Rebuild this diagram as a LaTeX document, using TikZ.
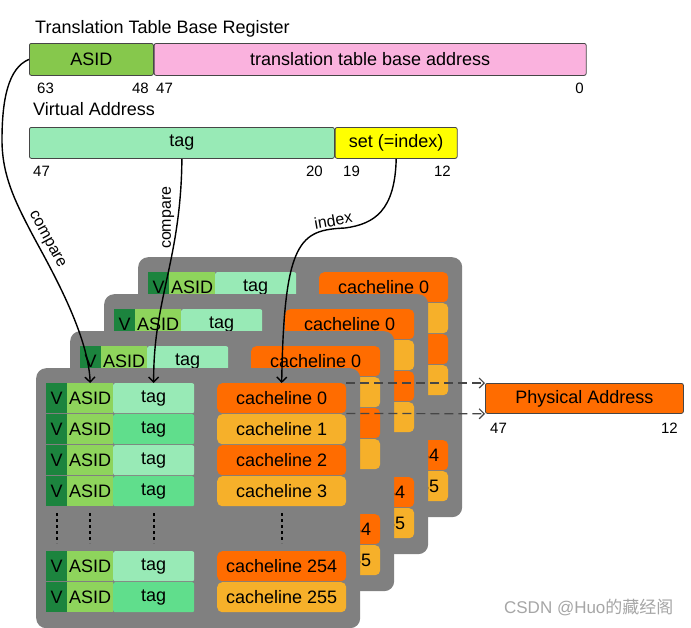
\documentclass[tikz,border=0pt]{standalone}
\usepackage{fontspec}
\setmainfont{Liberation Sans}
\newfontfamily\cjkfont{Noto Sans CJK SC}
\usetikzlibrary{positioning,arrows.meta}

\definecolor{asidgreen}{RGB}{134,200,76}
\definecolor{ttbrpink}{RGB}{250,178,222}
\definecolor{taglight}{RGB}{152,234,182}
\definecolor{tagmid}{RGB}{96,222,140}
\definecolor{setyellow}{RGB}{255,255,0}
\definecolor{cardgray}{RGB}{128,128,128}
\definecolor{vgreen}{RGB}{28,132,62}
\definecolor{cellasid}{RGB}{142,212,92}
\definecolor{clorange}{RGB}{255,108,0}
\definecolor{clamber}{RGB}{246,176,42}
\definecolor{edgegray}{RGB}{70,70,70}

\begin{document}
\begin{tikzpicture}[x=1pt,y=1pt,>={Straight Barb[length=5pt,width=10pt]},
  txt/.style={font=\fontsize{18}{21}\selectfont},
  num/.style={font=\fontsize{15}{18}\selectfont,inner sep=0pt},
  bar/.style={draw=edgegray,line width=0.8pt,rounded corners=2pt,anchor=north west,inner sep=0pt,txt},
  card/.style={fill=cardgray,rounded corners=10pt,anchor=north west,minimum width=324pt,minimum height=260pt,inner sep=0pt},
  cell/.style={anchor=north west,inner sep=0pt,minimum height=30pt,txt},
  arr/.style={->,line width=1.4pt},
  dotcol/.style={dash pattern=on 3pt off 3pt,line width=2pt}]
  \useasboundingbox (0,0) rectangle (691,-627);
  \fill[white] (0,0) rectangle (691,-627);

  \node[txt,anchor=base west,inner sep=0pt] (ttbrtitle) at (35,-33) {Translation Table Base Register};
  \node[bar,fill=asidgreen,minimum width=124pt,minimum height=32pt] (ttbrasid) at (29,-43) {ASID};
  \node[bar,fill=ttbrpink,minimum width=432pt,minimum height=32pt,right=0pt of ttbrasid] (ttbraddr) {translation table base address};
  \node[num,anchor=base west] (b63) at (37,-93) {63};
  \node[num,anchor=base east] (b48) at (149,-93) {48};
  \node[num,anchor=base west] (b47) at (156,-93) {47};
  \node[num,anchor=base east] (b0) at (584,-93) {0};

  \node[txt,anchor=base west,inner sep=0pt] (vatitle) at (33,-115) {Virtual Address};
  \node[bar,fill=taglight,minimum width=305pt,minimum height=31pt] (vatag) at (29,-127) {tag};
  \node[bar,fill=setyellow,minimum width=122pt,minimum height=31pt,right=0pt of vatag] (vaset) {set (=index)};
  \node[num,anchor=base west] (v47) at (33,-176) {47};
  \node[num,anchor=base east] (v20) at (323,-176) {20};
  \node[num,anchor=base west] (v19) at (343,-176) {19};
  \node[num,anchor=base east] (v12) at (451,-176) {12};

  \foreach \k in {3,2,1,0}{
    \begin{scope}[shift={(36+34*\k,-368+37*\k)}]
      \node[card] (card\k) at (0,0) {};
      \foreach \r/\ry/\tagc/\clc in {0/15/taglight/clorange,1/46/tagmid/clamber,2/77/taglight/clorange,3/108/tagmid/clamber,254/183/taglight/clorange,255/214/tagmid/clamber}{
        \ifnum\k=0 \def\showrow{1}\else\ifnum\r=0 \def\showrow{1}\else\def\showrow{0}\fi\fi
        \ifnum\r>253 \def\showcl{1}\else\let\showcl\showrow\fi
        \node[cell,fill=vgreen,minimum width=21pt] (v\k-\r) at (10,-\ry) {\ifnum\showrow=1 V\fi};
        \node[cell,fill=cellasid,minimum width=46pt] (asid\k-\r) at (31,-\ry) {\ifnum\showrow=1 ASID\fi};
        \node[cell,fill=\tagc,minimum width=81pt,rounded corners=2pt] (tag\k-\r) at (77,-\ry) {\ifnum\showrow=1 tag\fi};
        \node[cell,fill=\clc,minimum width=129pt,rounded corners=5pt] (cl\k-\r) at (181,-\ry) {\ifnum\showcl=1 cacheline \r\fi};
      }
      \foreach \dx in {20.5,54,117.5,245.5}
        \draw[dotcol] (\dx,-145) -- (\dx,-175);
    \end{scope}
  }

  \node[bar,fill=clorange,minimum width=198pt,minimum height=30pt] (pa) at (485,-383) {Physical Address};
  \node[num,anchor=base west] (p47) at (490,-433) {47};
  \node[num,anchor=base east] (p12) at (678,-433) {12};

  \draw[->,dash pattern=on 9pt off 5pt,line width=1.2pt,draw=edgegray] (cl0-0.north east) -- (pa.north west);
  \draw[->,dash pattern=on 9pt off 5pt,line width=1.2pt,draw=edgegray] (cl0-0.south east) -- (pa.south west);

  \draw[arr] (ttbrasid.west) .. controls (8,-68) and (2,-100) .. (2,-140) .. controls (2,-175) and (15,-201) .. (30,-230) .. controls (45,-259) and (88,-330) .. (asid0-0.north) node[pos=0.14,sloped,above,font=\fontsize{16}{18}\selectfont] (cmpasid) {compare};
  \draw[arr] (vatag.south) .. controls (181,-260) and (153,-300) .. (tag0-0.north) node[pos=0.22,rotate=90,anchor=south,inner sep=3pt,font=\fontsize{16}{18}\selectfont] (cmptag) {compare};
  \draw[arr] (vaset.south) .. controls (395,-210) and (375,-224) .. (345,-228) .. controls (300,-230) and (284,-240) .. (cl0-0.north) node[pos=0.08,rotate=10,anchor=south,inner sep=2pt,font=\fontsize{16}{18}\selectfont] (idx) {index};

  \node[anchor=base east,text=gray!70,font=\fontsize{17}{20}\selectfont] (wm) at (677,-613) {CSDN @Huo{\cjkfont 的藏经阁}};
\end{tikzpicture}
\end{document}
